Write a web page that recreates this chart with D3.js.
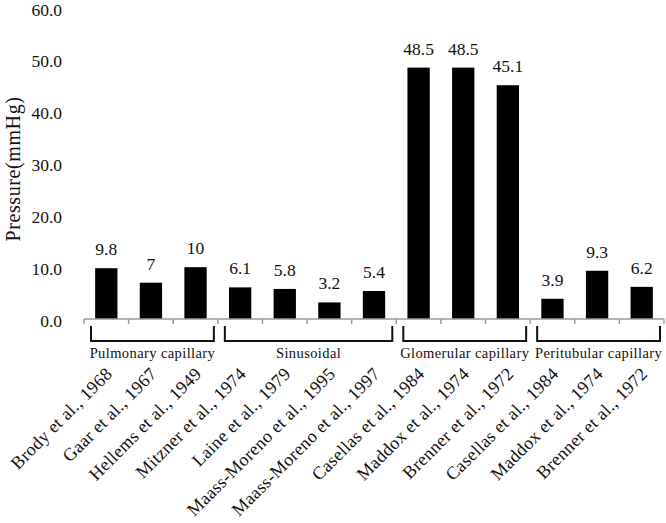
<!DOCTYPE html>
<html>
<head>
<meta charset="utf-8">
<script src="https://cdn.jsdelivr.net/npm/d3@7"></script>
<style>
  body { margin: 0; background: #fff; }
  text { font-family: "Liberation Serif", "Times New Roman", serif; fill: #111; }
</style>
</head>
<body>
<div id="chart"></div>
<script>
// data
const studies = ["Brody et al., 1968", "Gaar et al., 1967", "Hellems et al., 1949",
  "Mitzner et al., 1974", "Laine et al., 1979", "Maass-Moreno et al., 1995",
  "Maass-Moreno et al., 1997", "Casellas et al., 1984", "Maddox et al., 1974",
  "Brenner et al., 1972", "Casellas et al., 1984", "Maddox et al., 1974",
  "Brenner et al., 1972"];
const pressures = [9.8, 7, 10, 6.1, 5.8, 3.2, 5.4, 48.5, 48.5, 45.1, 3.9, 9.3, 6.2];
const valueLabels = ["9.8", "7", "10", "6.1", "5.8", "3.2", "5.4", "48.5", "48.5", "45.1", "3.9", "9.3", "6.2"];
const groupNames = ["Pulmonary capillary", "Sinusoidal", "Glomerular capillary", "Peritubular capillary"];
const groupStart = [0, 3, 7, 10];
const groupEnd = [2, 6, 9, 12];
const yTicks = [0, 10, 20, 30, 40, 50, 60];

const width = 666, height = 523;
const svg = d3.select("#chart").append("svg")
    .attr("width", width)
    .attr("height", height);

const x = d3.scaleBand()
    .domain(d3.range(studies.length))
    .range([84, 664])
    .paddingInner(0.5)
    .paddingOuter(0.25);
// band boundaries (for ticks and brackets) use a step-only scale
const xb = d3.scaleBand().domain(d3.range(studies.length)).range([84, 664]);

const y = d3.scaleLinear().domain([0, 60]).range([319, 8]);

// y tick labels (no axis line in the figure)
svg.selectAll("text.ytick")
  .data(yTicks)
  .enter().append("text")
    .attr("class", "ytick")
    .attr("x", 62)
    .attr("y", d => y(d) + 7.5)
    .attr("text-anchor", "end")
    .attr("font-size", "17.5px")
    .text(d => d.toFixed(1));

svg.append("text")
    .attr("transform", "translate(20," + 169 + ") rotate(-90)")
    .attr("text-anchor", "middle")
    .attr("font-size", "20px")
    .attr("letter-spacing", "0.6px")
    .text("Pressure(mmHg)");

// bars
svg.selectAll("rect.bar")
  .data(pressures)
  .enter().append("rect")
    .attr("class", "bar")
    .attr("x", (d, i) => x(i))
    .attr("width", x.bandwidth())
    .attr("y", d => y(d))
    .attr("height", d => y(0) - y(d))
    .attr("fill", "#000");

// value labels
svg.selectAll("text.val")
  .data(pressures)
  .enter().append("text")
    .attr("class", "val")
    .attr("x", (d, i) => x(i) + x.bandwidth() / 2)
    .attr("y", d => y(d) - 13)
    .attr("text-anchor", "middle")
    .attr("font-size", "17.5px")
    .text((d, i) => valueLabels[i]);

// x axis line + boundary ticks
const axisG = svg.append("g").attr("stroke", "#9a9a9a").attr("stroke-width", 1.5);
axisG.append("line")
    .attr("x1", 84).attr("x2", 664)
    .attr("y1", y(0)).attr("y2", y(0));
axisG.selectAll("line.tick")
  .data(d3.range(studies.length + 1))
  .enter().append("line")
    .attr("class", "tick")
    .attr("x1", i => i < studies.length ? xb(i) : xb(i - 1) + xb.bandwidth())
    .attr("x2", i => i < studies.length ? xb(i) : xb(i - 1) + xb.bandwidth())
    .attr("y1", y(0))
    .attr("y2", y(0) + 5);

// group brackets
const bracketTop = 326, bracketBottom = 341;
groupNames.forEach((name, g) => {
  const x0 = xb(groupStart[g]) + 7;
  const x1 = xb(groupEnd[g]) + xb.bandwidth() - 4;
  svg.append("path")
      .attr("d", "M" + x0 + "," + bracketTop + "V" + bracketBottom + "H" + x1 + "V" + bracketTop)
      .attr("fill", "none")
      .attr("stroke", "#111")
      .attr("stroke-width", 2);
  svg.append("text")
      .attr("x", (x0 + x1) / 2)
      .attr("y", 358)
      .attr("text-anchor", "middle")
      .attr("font-size", "14.5px")
      .attr("letter-spacing", "0.4px")
      .text(name);
});

// rotated study labels
svg.selectAll("text.study")
  .data(studies)
  .enter().append("text")
    .attr("class", "study")
    .attr("transform", (d, i) => "translate(" + (x(i) + x.bandwidth() / 2 + 7) + ",375) rotate(-45)")
    .attr("text-anchor", "end")
    .attr("font-size", "18px")
    .attr("letter-spacing", "0.3px")
    .text(d => d);
</script>
</body>
</html>
